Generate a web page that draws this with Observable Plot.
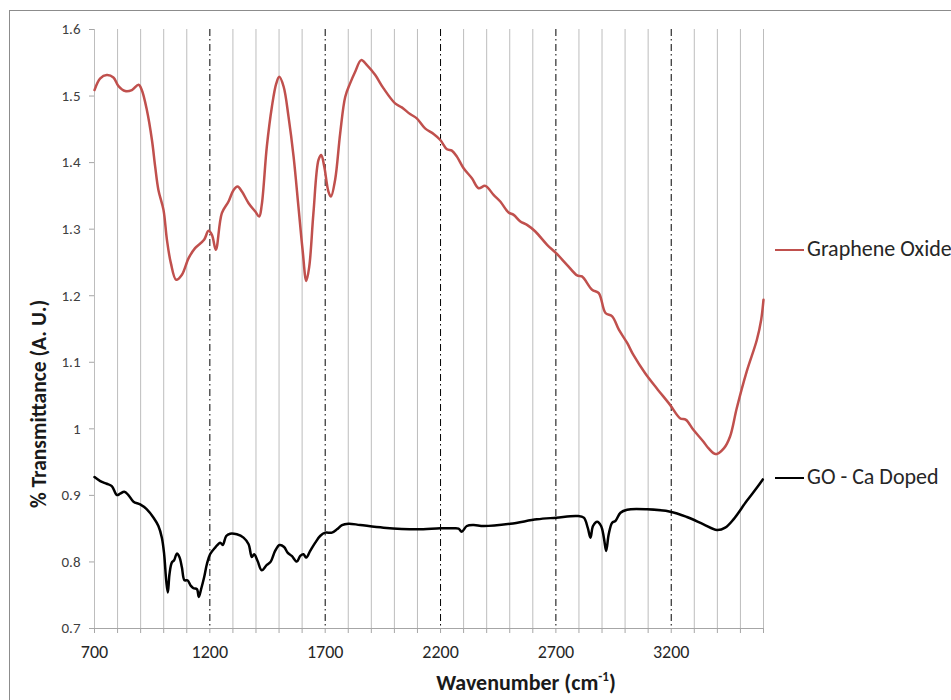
<!DOCTYPE html>
<html>
<head>
<meta charset="utf-8">
<script src="https://cdn.jsdelivr.net/npm/d3@7"></script>
<script src="https://cdn.jsdelivr.net/npm/@observablehq/plot@0.6"></script>
<style>
  html, body { margin: 0; padding: 0; background: #fff; overflow: hidden; }
  #wrap { position: relative; width: 951px; height: 700px; overflow: hidden; font-family: Carlito, Lato, "Liberation Sans", sans-serif; color: #404040; }
  #border { position: absolute; left: 9px; top: 10px; width: 1000px; height: 1000px; border-left: 1.5px solid #8c8c8c; border-top: 1.5px solid #8c8c8c; }
  #chart { position: absolute; left: 0; top: 0; }
  .leg { position: absolute; font-size: 22px; line-height: 24px; white-space: nowrap; color: #262626; }
  .leg .sw { display: inline-block; width: 29px; height: 0; border-top: 2.5px solid; vertical-align: middle; margin-right: 3px; position: relative; top: -1px; }
  #ytitle { position: absolute; left: 39px; top: 404px; transform: translate(-50%, -50%) rotate(-90deg); font-weight: bold; font-size: 21.5px; white-space: nowrap; color: #1a1a1a; }
  #xtitle { position: absolute; left: 526px; top: 682px; transform: translate(-50%, -50%); font-weight: bold; font-size: 22px; white-space: nowrap; color: #1a1a1a; }
</style>
</head>
<body>
<div id="wrap">
  <div id="border"></div>
  <div id="chart"></div>
  <div id="ytitle">% Transmittance (A. U.)</div>
  <div id="xtitle">Wavenumber (cm<sup style="font-size:13px">-1</sup>)</div>
  <div class="leg" style="left:775px; top:237px;"><span class="sw" style="border-color:#c0504d"></span>Graphene Oxide</div>
  <div class="leg" style="left:775px; top:465px;"><span class="sw" style="border-color:#000"></span>GO - Ca Doped</div>
</div>
<script>
// ---- data ----
const goWavenumber = [700,725,753,782,804,833,862,891,905,927,949,963,977,999,1014,1031,1054,1079,1108,1136,1175,1194,1209,1226,1252,1281,1303,1320,1339,1368,1397,1414,1425,1447,1469,1488,1501,1520,1541,1563,1584,1602,1618,1631,1649,1671,1683,1696,1714,1725,1743,1765,1787,1808,1830,1856,1881,1917,1953,2003,2032,2068,2097,2133,2170,2199,2228,2249,2271,2300,2336,2365,2394,2430,2459,2495,2517,2546,2575,2611,2662,2701,2748,2792,2813,2857,2886,2915,2944,2973,3009,3036,3087,3137,3195,3238,3264,3296,3339,3361,3393,3429,3455,3484,3527,3571,3590,3600];
const goValues = [1.509,1.5265,1.5315,1.528,1.515,1.5075,1.509,1.517,1.509,1.479,1.434,1.394,1.359,1.329,1.284,1.249,1.224,1.2315,1.2565,1.2715,1.284,1.2975,1.2915,1.269,1.324,1.3415,1.359,1.364,1.3565,1.339,1.3265,1.319,1.3365,1.424,1.484,1.519,1.529,1.514,1.469,1.409,1.334,1.269,1.222,1.244,1.324,1.404,1.4115,1.394,1.3565,1.349,1.374,1.444,1.499,1.519,1.5365,1.554,1.5465,1.5315,1.5115,1.489,1.483,1.473,1.4665,1.4515,1.443,1.434,1.42,1.418,1.409,1.3915,1.3765,1.3615,1.365,1.3515,1.3415,1.325,1.3215,1.3115,1.3065,1.2965,1.2765,1.264,1.2465,1.2305,1.229,1.209,1.204,1.174,1.169,1.149,1.129,1.111,1.0835,1.061,1.036,1.016,1.0135,0.9985,0.981,0.971,0.962,0.971,0.9885,1.031,1.086,1.1335,1.164,1.194];

const caWavenumber = [700,725,753,775,797,811,829,847,869,898,927,956,977,992,1002,1011,1018,1025,1035,1045,1057,1068,1079,1090,1103,1118,1129,1144,1152,1162,1175,1187,1201,1223,1245,1256,1271,1288,1317,1346,1368,1382,1392,1407,1425,1447,1464,1483,1502,1522,1537,1555,1577,1592,1606,1618,1635,1657,1678,1700,1729,1751,1773,1801,1852,1953,2097,2199,2256,2278,2292,2314,2343,2387,2503,2618,2701,2792,2821,2838,2850,2861,2879,2896,2908,2918,2929,2944,2958,2980,3009,3095,3196,3268,3340,3398,3434,3470,3527,3571,3597];
const caValues = [0.9275,0.9215,0.9175,0.914,0.9005,0.9025,0.9055,0.9005,0.8905,0.8865,0.879,0.8665,0.854,0.8365,0.8115,0.7715,0.754,0.7815,0.799,0.8025,0.8125,0.8075,0.7915,0.7725,0.7725,0.764,0.7605,0.759,0.7475,0.759,0.7765,0.7965,0.8115,0.8215,0.829,0.8255,0.839,0.8425,0.8415,0.8365,0.8265,0.8075,0.8115,0.8015,0.7875,0.7955,0.8005,0.8165,0.8255,0.8225,0.814,0.809,0.8005,0.809,0.8115,0.8065,0.8165,0.829,0.839,0.844,0.844,0.849,0.8555,0.8575,0.8555,0.8515,0.849,0.8505,0.8505,0.85,0.8455,0.854,0.8555,0.854,0.8575,0.864,0.8665,0.869,0.8665,0.8515,0.8365,0.854,0.8605,0.854,0.8365,0.8165,0.8415,0.859,0.8615,0.874,0.8785,0.879,0.8755,0.8675,0.8565,0.848,0.8515,0.864,0.8915,0.9115,0.924];

const xTickLabels = [700, 1200, 1700, 2200, 2700, 3200];
const yTickLabels = [0.7, 0.8, 0.9, 1.0, 1.1, 1.2, 1.3, 1.4, 1.5, 1.6];
const seriesNames = ["Graphene Oxide", "GO - Ca Doped"];

// ---- build ----
const goData = goWavenumber.map((x, i) => ({x, y: goValues[i], s: seriesNames[0]}));
const caData = caWavenumber.map((x, i) => ({x, y: caValues[i], s: seriesNames[1]}));
const gridEvery100 = d3.range(700, 3601, 100);
const solidGrid = gridEvery100.filter(v => !xTickLabels.includes(v) || v === 700);
const dashGrid = xTickLabels.filter(v => v !== 700);

const chart = Plot.plot({
  width: 951,
  height: 700,
  marginLeft: 94,
  marginRight: 188,
  marginTop: 29,
  marginBottom: 72,
  style: { fontFamily: "Carlito, Lato, 'Liberation Sans', sans-serif", color: "#404040", background: "transparent", overflow: "visible" },
  x: { domain: [700, 3600], label: null },
  y: { domain: [0.7, 1.6], label: null },
  marks: [
    Plot.ruleX(solidGrid, { stroke: "#bdbdbd", strokeWidth: 1 }),
    Plot.ruleX(dashGrid, { stroke: "#000", strokeWidth: 1, strokeDasharray: "7,3,1.5,3.5" }),
    Plot.ruleY([0.7], { stroke: "#a6a6a6", strokeWidth: 1 }),
    Plot.axisX({ ticks: gridEvery100, tickSize: 5, stroke: "#a6a6a6", tickFormat: () => "" }),
    Plot.axisX({ ticks: xTickLabels, tickSize: 0, tickPadding: 17, fontSize: 18, fill: "#262626", tickFormat: d => String(d) }),
    Plot.axisY({ ticks: yTickLabels, tickSize: 5, stroke: "#a6a6a6", tickPadding: 9, fontSize: 15, fill: "#404040", tickFormat: d => String(+d.toFixed(1)) }),
    Plot.line(goData, { x: "x", y: "y", stroke: "#c0504d", strokeWidth: 2.5, curve: "catmull-rom" }),
    Plot.line(caData, { x: "x", y: "y", stroke: "#000", strokeWidth: 2.5, curve: "catmull-rom" })
  ]
});
document.getElementById("chart").appendChild(chart);
</script>
</body>
</html>
